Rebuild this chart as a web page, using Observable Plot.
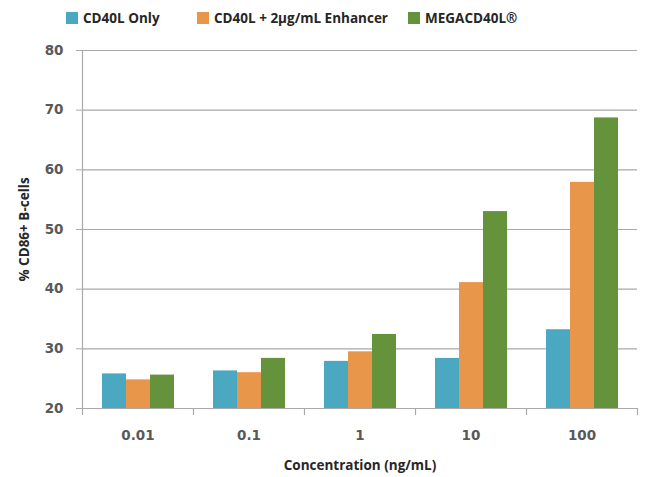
<!DOCTYPE html>
<html>
<head>
<meta charset="utf-8">
<script src="https://cdn.jsdelivr.net/npm/d3@7"></script>
<script src="https://cdn.jsdelivr.net/npm/@observablehq/plot@0.6"></script>
<style>
  html, body { margin: 0; padding: 0; background: #fff; }
  #wrap { width: 660px; height: 477px; position: relative; overflow: hidden; }
  #legend { position: relative; height: 36px; font-family: "Open Sans", sans-serif; font-weight: 700; font-size: 13.5px; color: #262626; }
  .item { position: absolute; top: 9px; display: flex; align-items: center; white-space: nowrap; }
  .sw { width: 12px; height: 12px; margin-right: 5px; display: inline-block; }
  svg { display: block; }
</style>
</head>
<body>
<div id="wrap">
  <div id="legend"></div>
  <div id="chart"></div>
</div>
<script>
const categories = ["0.01", "0.1", "1", "10", "100"];
const series = ["CD40L Only", "CD40L + 2µg/mL Enhancer", "MEGACD40L®"];
const cd40lOnly = [25.8, 26.3, 27.9, 28.4, 33.2];
const enhancer = [24.8, 26.0, 29.5, 41.1, 57.9];
const megaCD40L = [25.6, 28.4, 32.4, 53.0, 68.7];
const colors = ["#4aa8c1", "#e8964a", "#64933b"];
const yTicks = [20, 30, 40, 50, 60, 70, 80];
const legendLeft = [66, 197, 408];

const values = [cd40lOnly, enhancer, megaCD40L];
const data = [];
categories.forEach((c, i) => {
  series.forEach((s, j) => data.push({conc: c, series: s, value: values[j][i]}));
});

// Legend
const legend = document.getElementById("legend");
series.forEach((s, j) => {
  const it = document.createElement("div");
  it.className = "item";
  it.style.left = legendLeft[j] + "px";
  const sw = document.createElement("span");
  sw.className = "sw";
  sw.style.background = colors[j];
  it.appendChild(sw);
  it.appendChild(document.createTextNode(s));
  legend.appendChild(it);
});

const grid = "#a9a9a9";
const tickFont = "'DejaVu Sans', sans-serif";
const H = 441, MT = 14, MB = 69;
const chart = Plot.plot({
  width: 660,
  height: H,
  marginTop: MT,
  marginBottom: MB,
  marginLeft: 82,
  marginRight: 23,
  style: {fontFamily: "'Open Sans', sans-serif", fontSize: "14px", overflow: "visible"},
  fx: {domain: categories, padding: 0, label: null},
  x: {domain: series, paddingInner: 0, paddingOuter: 0.75, axis: null},
  y: {domain: [20, 80]},
  color: {domain: series, range: colors},
  marks: [
    Plot.gridY(yTicks, {stroke: grid, strokeOpacity: 1, strokeWidth: 1.2}),
    Plot.frame({anchor: "left", facetAnchor: "left", stroke: grid, strokeWidth: 1.2}),
    Plot.frame({anchor: "left", stroke: grid, strokeWidth: 1.2, insetTop: H - MT - MB, insetBottom: -6}),
    Plot.frame({anchor: "right", facetAnchor: "right", stroke: grid, strokeWidth: 1.2, insetTop: H - MT - MB, insetBottom: -6}),
    Plot.barY(data, {fx: "conc", x: "series", y1: 20, y2: "value", fill: "series"}),
    Plot.axisY(yTicks, {tickSize: 6, tickPadding: 13, stroke: grid, fill: "#595959", fontWeight: 700, fontFamily: tickFont, fontSize: 13.5, label: null}),
    Plot.axisY({ticks: [], label: "% CD86+ B-cells", labelAnchor: "center", labelArrow: "none", labelOffset: 63, fontWeight: 700, fontSize: 13.5, fill: "#262626"}),
    Plot.axisFx({anchor: "bottom", tickSize: 0, tickPadding: 22, fill: "#595959", fontWeight: 700, fontFamily: tickFont, fontSize: 13.5, label: null}),
    Plot.axisFx({anchor: "bottom", ticks: [], label: "Concentration (ng/mL)", labelAnchor: "center", labelArrow: "none", labelOffset: 61, fontWeight: 700, fontSize: 13.5, fill: "#262626"})
  ]
});
document.getElementById("chart").appendChild(chart);
</script>
</body>
</html>
